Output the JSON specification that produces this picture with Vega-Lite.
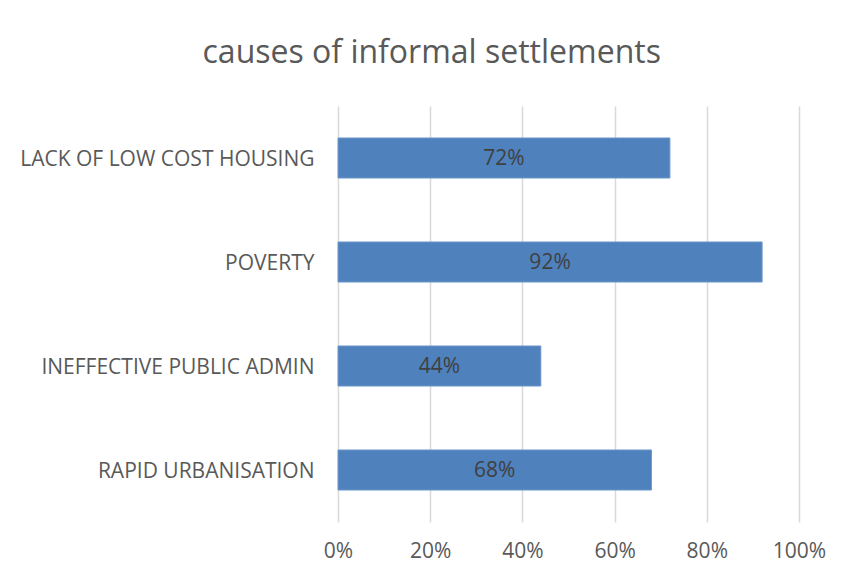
{
  "$schema": "https://vega.github.io/schema/vega-lite/v6.json",
  "width": 461,
  "height": 416,
  "autosize": {"type": "none"},
  "padding": {"left": 338, "top": 106, "right": 48, "bottom": 57},
  "background": "white",
  "title": {
    "text": "causes of informal settlements",
    "font": "Open Sans",
    "fontSize": 32,
    "fontWeight": "normal",
    "color": "#595959",
    "anchor": "middle",
    "frame": "bounds",
    "dx": 9,
    "offset": 36
  },
  "data": {
    "values": [
      {"cause": "LACK OF LOW COST HOUSING", "pct": 0.72},
      {"cause": "POVERTY", "pct": 0.92},
      {"cause": "INEFFECTIVE PUBLIC ADMIN", "pct": 0.44},
      {"cause": "RAPID URBANISATION", "pct": 0.68}
    ]
  },
  "encoding": {
    "y": {
      "field": "cause",
      "type": "nominal",
      "sort": null,
      "scale": {"paddingInner": 0.615, "paddingOuter": 0.3075},
      "axis": {
        "title": null,
        "domain": false,
        "ticks": false,
        "grid": false,
        "labelPadding": 24,
        "labelOffset": 2,
        "labelFont": "Open Sans",
        "labelFontSize": 21,
        "labelColor": "#595959",
        "labelLimit": 400
      }
    }
  },
  "layer": [
    {
      "mark": {"type": "bar", "color": "#4F81BD", "stroke": "#6f99cb", "strokeWidth": 1},
      "encoding": {
        "x": {
          "field": "pct",
          "type": "quantitative",
          "scale": {"domain": [0, 1], "nice": false},
          "axis": {
            "title": null,
            "format": ".0%",
            "values": [0, 0.2, 0.4, 0.6, 0.8, 1],
            "domain": false,
            "ticks": false,
            "grid": true,
            "gridColor": "#d9d9d9",
            "gridWidth": 1.5,
            "labelFlush": false,
            "labelOverlap": false,
            "labelPadding": 18,
            "labelFont": "Open Sans",
            "labelFontSize": 21,
            "labelColor": "#595959"
          }
        }
      }
    },
    {
      "transform": [{"calculate": "datum.pct / 2", "as": "mid"}],
      "mark": {"type": "text", "font": "Open Sans", "fontSize": 21, "color": "#404040", "baseline": "middle", "dy": 1},
      "encoding": {
        "x": {"field": "mid", "type": "quantitative"},
        "text": {"field": "pct", "type": "quantitative", "format": ".0%"}
      }
    }
  ],
  "config": {"view": {"stroke": null}}
}
